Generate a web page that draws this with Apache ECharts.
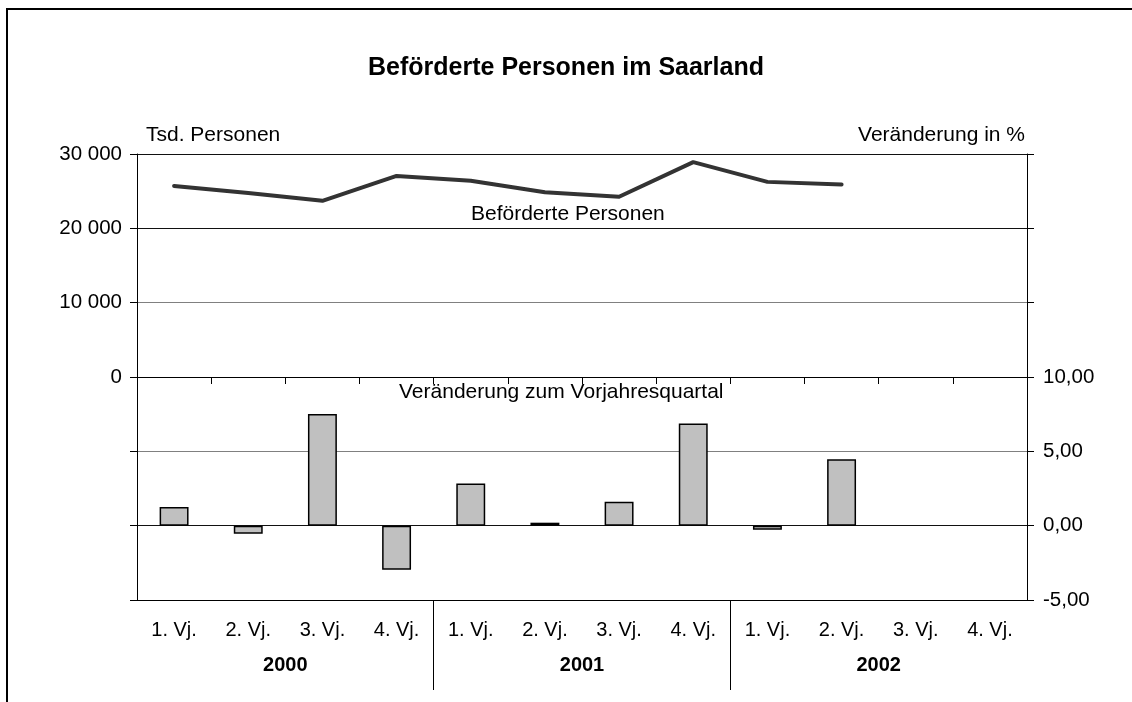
<!DOCTYPE html>
<html>
<head>
<meta charset="utf-8">
<script src="https://cdn.jsdelivr.net/npm/echarts@6/dist/echarts.min.js"></script>
<style>
  html, body { margin: 0; padding: 0; background: #fff; }
  #chart { width: 1132px; height: 702px; }
</style>
</head>
<body>
<div id="chart"></div>
<script>
// ---- data ----
const quarters = ['1. Vj.', '2. Vj.', '3. Vj.', '4. Vj.', '1. Vj.', '2. Vj.', '3. Vj.', '4. Vj.', '1. Vj.', '2. Vj.', '3. Vj.', '4. Vj.'];
const years = ['2000', '2001', '2002'];
const persons = [25700, 24750, 23700, 27050, 26400, 24850, 24250, 28900, 26250, 25900, null, null];
const changePct = [1.26, -0.54, 7.51, -2.96, 2.84, 0.2, 1.61, 6.88, -0.27, 4.46, null, null];

const titleText = 'Beförderte Personen im Saarland';
const leftUnit = 'Tsd. Personen';
const rightUnit = 'Veränderung in %';
const lineLabel = 'Beförderte Personen';
const barLabel = 'Veränderung zum Vorjahresquartal';

const FONT = '"Liberation Sans", Arial, sans-serif';
const chart = echarts.init(document.getElementById('chart'), null, { renderer: 'canvas' });

function fmtThousands(v) {
  return String(v).replace(/\B(?=(\d{3})+(?!\d))/g, ' ');
}

const txt = { fontFamily: FONT, fontSize: 21, color: '#000', fontWeight: 'normal' };

chart.setOption({
  backgroundColor: '#fff',
  animation: false,
  title: [
    { text: titleText, left: 'center', top: 56, padding: 0,
      textStyle: { fontFamily: FONT, fontSize: 25, fontWeight: 'bold', color: '#000' } },
    { text: leftUnit, left: 146, top: 125, padding: 0, textStyle: txt },
    { text: rightUnit, right: 107, top: 125, padding: 0, textStyle: txt },
    { text: lineLabel, left: 471, top: 204, padding: 0, textStyle: txt },
    { text: barLabel, left: 399, top: 382, padding: 0, textStyle: txt }
  ],
  graphic: [
    { type: 'rect', silent: true, z: 100,
      shape: { x: 7, y: 9, width: 1300, height: 900 },
      style: { fill: 'none', stroke: '#000', lineWidth: 2 } }
  ],
  grid: [
    { left: 137, right: 105, top: 154, bottom: 102, containLabel: false },
    { left: 137, right: 105, top: 600, height: 90, containLabel: false }
  ],
  xAxis: [
    { // zero line with ticks
      type: 'category', gridIndex: 0, data: quarters, position: 'top',
      axisLine: { show: true, onZero: true, onZeroAxisIndex: 0, lineStyle: { color: '#000', width: 1 } },
      axisTick: { show: true, inside: true, length: 7, interval: 0, lineStyle: { color: '#000' } },
      axisLabel: { show: false },
      splitLine: { show: false }
    },
    { // bottom axis with quarter labels
      type: 'category', gridIndex: 0, data: quarters, position: 'bottom',
      axisLine: { show: true, onZero: false, lineStyle: { color: '#000', width: 1 } },
      axisTick: { show: false },
      axisLabel: { show: true, interval: 0, margin: 20, fontFamily: FONT, fontSize: 20, color: '#000' },
      splitLine: { show: false }
    },
    { // year labels and separators
      type: 'category', gridIndex: 1, data: years, position: 'top',
      axisLine: { show: false },
      axisTick: { show: false },
      axisLabel: { show: true, inside: true, interval: 0, margin: 55, fontFamily: FONT, fontSize: 20, fontWeight: 'bold', color: '#000' },
      splitLine: { show: true, interval: 0, showMinLine: false, showMaxLine: false, lineStyle: { color: '#000', width: 1 } }
    }
  ],
  yAxis: [
    {
      type: 'value', gridIndex: 0, position: 'left', min: -30000, max: 30000, interval: 10000,
      axisLine: { show: true, onZero: false, lineStyle: { color: '#000', width: 1 } },
      axisTick: { show: true, length: 7, lineStyle: { color: '#000' } },
      axisLabel: { margin: 15, fontFamily: FONT, fontSize: 20.5, color: '#000',
        formatter: v => (v >= 0 ? fmtThousands(v) : '') },
      splitLine: { show: true, lineStyle: { width: 1,
        color: ['#111', '#111', '#808080', '#111', '#808080', '#111', '#111'] } }
    },
    {
      type: 'value', gridIndex: 0, position: 'right', min: -5, max: 25, interval: 5,
      axisLine: { show: true, onZero: false, lineStyle: { color: '#000', width: 1 } },
      axisTick: { show: true, length: 7, lineStyle: { color: '#000' } },
      axisLabel: { margin: 16, fontFamily: FONT, fontSize: 20.5, color: '#000',
        formatter: v => (v <= 10 ? v.toFixed(2).replace('.', ',') : '') },
      splitLine: { show: false }
    },
    { type: 'value', gridIndex: 1, show: false, min: 0, max: 1 }
  ],
  series: [
    {
      name: barLabel, type: 'bar', xAxisIndex: 0, yAxisIndex: 1, data: changePct,
      barWidth: '39%',
      itemStyle: { color: '#c0c0c0', borderColor: '#000', borderWidth: 1.5 },
      z: 2
    },
    {
      name: lineLabel, type: 'line', xAxisIndex: 0, yAxisIndex: 0, data: persons,
      symbol: 'none', showSymbol: false, connectNulls: false,
      lineStyle: { color: '#333', width: 4, cap: 'round', join: 'round' },
      z: 3
    }
  ]
});
</script>
</body>
</html>
